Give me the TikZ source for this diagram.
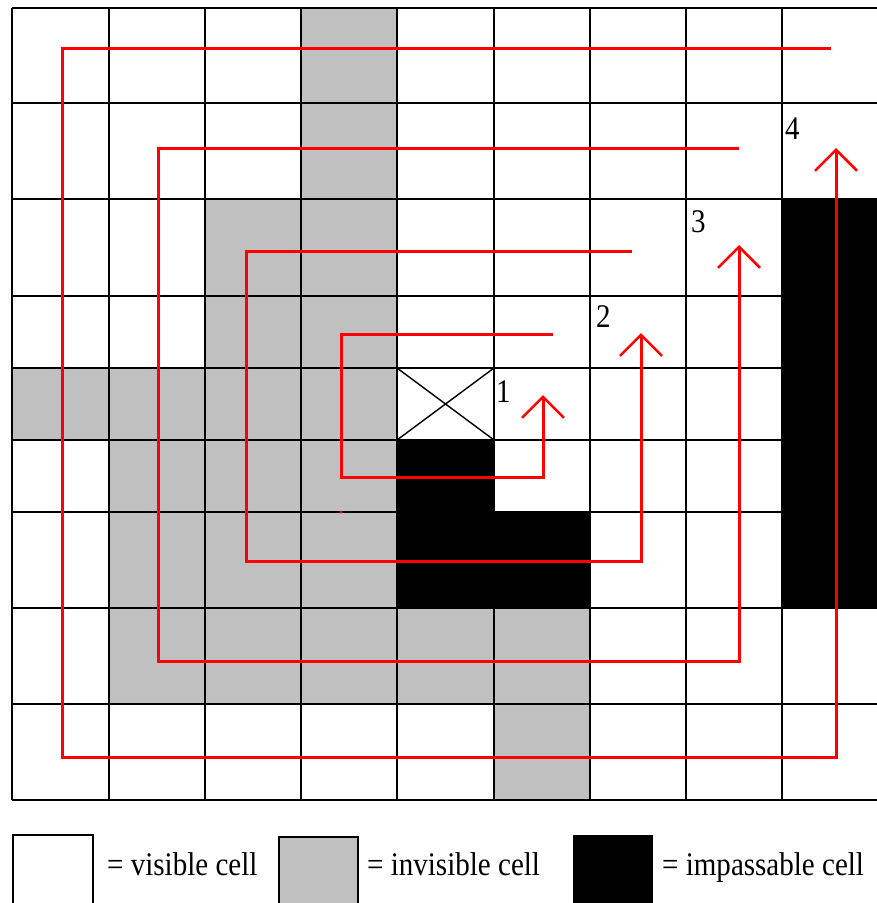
\documentclass[tikz,border=0pt]{standalone}
\usepackage{fontspec}
\setmainfont{Liberation Serif}[FakeStretch=0.88]
\usetikzlibrary{arrows.meta}
\definecolor{cellgray}{RGB}{192,192,192}

\begin{document}
\begin{tikzpicture}[x=1pt,y=-1pt]
	\tikzset{gridline/.style={black,line width=1.4pt},
		route/.style={red,line width=3pt,-{Straight Barb[length=21pt,width=42pt,line width=2.5pt]}},
		num/.style={anchor=base west,inner sep=0pt,font=\fontsize{33}{40}\selectfont},
		keybox/.style={draw,line width=1.4pt}};
	\useasboundingbox (0,0) rectangle (877,903);
	\clip (0,0) rectangle (877,903);
	\fill[cellgray] (301,8) rectangle (397,704);
	\fill[cellgray] (205,199) rectangle (301,704);
	\fill[cellgray] (12,368) rectangle (205,440);
	\fill[cellgray] (109,440) rectangle (205,704);
	\fill[cellgray] (397,608) rectangle (590,704);
	\fill[cellgray] (494,704) rectangle (590,800);
	\foreach \y in {8,103,199,296,368,440,512,608,704,800}
		\draw[gridline] (12,\y) -- (877,\y);
	\foreach \x in {12,109,205,301,397,494,590,686,782}
		\draw[gridline] (\x,8) -- (\x,800);
	\fill[black] (397,440) -- (494,440) -- (494,512) -- (590,512) -- (590,608) -- (397,608) -- cycle;
	\fill[black] (782,199) rectangle (877,608);
	\draw[gridline] (397,368) -- (494,440) (397,440) -- (494,368);
	\draw[route] (553,334) -- (341,334) -- (341,477) -- (543,477) -- (543,395);
	\draw[route] (632,251) -- (246,251) -- (246,561) -- (641,561) -- (641,333);
	\draw[route] (739,148) -- (158,148) -- (158,661) -- (739,661) -- (739,245);
	\draw[route] (831,48) -- (62,48) -- (62,757) -- (836,757) -- (836,148);
	\fill[red] (341,512) circle (1.5);
	\node[num] (n1) at (496,402) {1};
	\node[num] (n2) at (596,327) {2};
	\node[num] (n3) at (691,232) {3};
	\node[num] (n4) at (785,139) {4};
	\draw[keybox] (13,835) rectangle (93,920);
	\draw[keybox,fill=cellgray] (279,837) rectangle (358,920);
	\fill[black] (573,835) rectangle (653,920);
	\node[num] (visible) at (107,875) {= visible cell};
	\node[num] (invisible) at (367,875) {= invisible cell};
	\node[num] (impassable) at (662,875) {= impassable cell};
\end{tikzpicture}
\end{document}
